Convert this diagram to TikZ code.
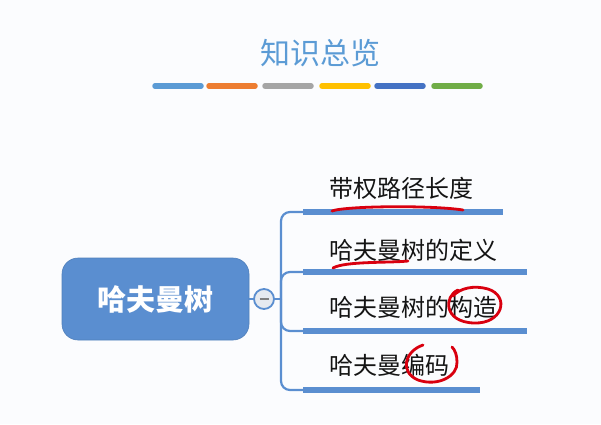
\documentclass[tikz,border=0pt]{standalone}
\usepackage{fontspec}
\newfontfamily\cjk{Noto Sans CJK SC}
\definecolor{bg}{HTML}{FBFCFE}
\definecolor{tblue}{HTML}{5B9BD5}
\definecolor{mblue}{HTML}{5A8ED0}
\definecolor{cgray}{HTML}{E6EAF0}
\definecolor{redm}{HTML}{D9000F}
\definecolor{c1}{HTML}{5B9BD5}
\definecolor{c2}{HTML}{ED7D31}
\definecolor{c3}{HTML}{A5A5A5}
\definecolor{c4}{HTML}{FFC000}
\definecolor{c5}{HTML}{4472C4}
\definecolor{c6}{HTML}{70AD47}
\begin{document}
\begin{tikzpicture}[x=1pt,y=-1pt,
  topic/.style={anchor=west, font=\cjk\fontsize{24}{24}\selectfont, text=black!92, inner sep=0pt},
  bar/.style={line width=5.5pt, draw=mblue},
  colorbar/.style={line width=5.5pt, line cap=round},
  conn/.style={draw=mblue, line width=2.2pt, rounded corners=9pt},
  redmark/.style={draw=redm, line width=2.8pt, line cap=round, line join=round},
  mainbox/.style={fill=mblue, draw=mblue!90!black, line width=0.6pt, rounded corners=16pt,
    minimum width=187pt, minimum height=82pt, text=white, font=\cjk\bfseries\fontsize{29}{29}\selectfont}]
\fill[bg] (0,0) rectangle (601,424);
\useasboundingbox (0,0) rectangle (601,424);

\node[font=\cjk\fontsize{30}{30}\selectfont, text=tblue, inner sep=0pt] (title) at (320,53) {知识总览};

\foreach \xa/\col in {153/c1,207/c2,263/c3,320/c4,375/c5,432/c6}{
  \draw[colorbar, draw=\col] ({\xa+2},86) -- ({\xa+48},86);
}

\node[mainbox] (root) at (155.5,299) {哈夫曼树};
\node[circle, draw=mblue, fill=cgray, line width=1.8pt, minimum size=20pt, inner sep=0pt] (col) at (264,299) {};
\draw[gray, line width=2.4pt] ([xshift=-4.5pt]col.center) -- ([xshift=4.5pt]col.center);
\coordinate (j) at (281,299);
\draw[conn] (root.east) -- (col.west);
\draw[conn] (col.east) -- (j);

\foreach \i/\yy/\xe in {1/212/503, 2/272/527, 3/331/527, 4/390/480}{
  \coordinate (s\i) at (303,\yy);
  \coordinate (e\i) at (\xe,\yy);
  \draw[conn] (j) |- (s\i);
  \draw[bar] (s\i) -- (e\i);
}

\node[topic] (t1) at (329,188) {带权路径长度};
\node[topic] (t2) at (329,250) {哈夫曼树的定义};
\node[topic] (t3) at (329,307) {哈夫曼树的构造};
\node[topic] (t4) at (329,365) {哈夫曼编码};

\draw[redmark] (332,211) .. controls (345,206) and (430,205) .. (463,210);
\draw[redmark] (333,268) .. controls (345,261) and (390,263) .. (408,261);
\draw[redmark] (458,290) .. controls (444,296) and (443,322) .. (474,323)
  .. controls (503,324) and (510,296) .. (488,289)
  .. controls (474,285) and (460,288) .. (453,296);
\draw[redmark] (423,345) .. controls (405,351) and (399,372) .. (418,380)
  .. controls (438,387) and (458,376) .. (457,362)
  .. controls (457,355) and (455,350) .. (452,347);
\end{tikzpicture}
\end{document}
